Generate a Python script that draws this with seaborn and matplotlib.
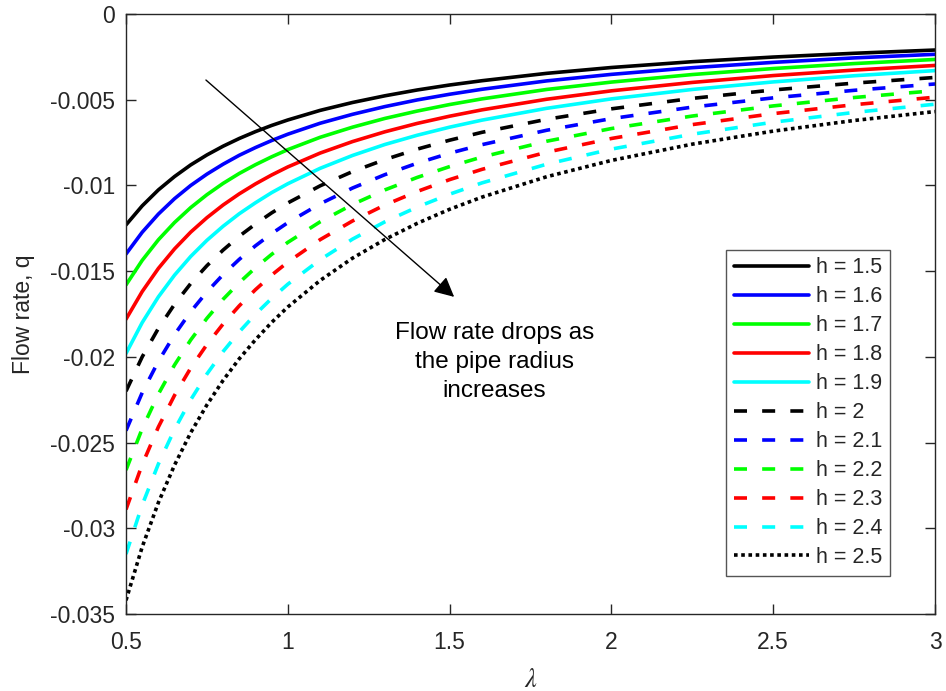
import numpy as np
import pandas as pd
import matplotlib
matplotlib.use("Agg")
import matplotlib.pyplot as plt
import seaborn as sns

lam = [0.5, 0.55, 0.6, 0.65, 0.7, 0.75, 0.8, 0.85, 0.9, 0.95, 1.0, 1.1, 1.2, 1.3,
       1.4, 1.5, 1.6, 1.8, 2.0, 2.25, 2.5, 2.75, 3.0]

# flow rate q, in units of 1e-3 for each pipe radius h
q_15 = [-12.3, -11.19, -10.26, -9.48, -8.80, -8.22, -7.71, -7.26, -6.86, -6.50, -6.18, -5.62,
        -5.16, -4.77, -4.43, -4.14, -3.89, -3.46, -3.12, -2.78, -2.51, -2.29, -2.10]
q_16 = [-14.0, -12.73, -11.67, -10.77, -10.00, -9.34, -8.76, -8.24, -7.79, -7.38, -7.01, -6.37,
        -5.85, -5.40, -5.01, -4.68, -4.39, -3.90, -3.52, -3.13, -2.82, -2.56, -2.35]
q_17 = [-15.8, -14.37, -13.17, -12.16, -11.29, -10.54, -9.88, -9.30, -8.79, -8.33, -7.91, -7.19,
        -6.60, -6.09, -5.66, -5.28, -4.95, -4.40, -3.97, -3.53, -3.18, -2.89, -2.65]
q_18 = [-17.8, -16.19, -14.84, -13.70, -12.72, -11.88, -11.14, -10.49, -9.91, -9.39, -8.92, -8.11,
        -7.44, -6.87, -6.38, -5.96, -5.59, -4.97, -4.48, -3.99, -3.59, -3.27, -3.00]
q_19 = [-19.8, -18.00, -16.50, -15.23, -14.14, -13.20, -12.38, -11.65, -11.01, -10.42, -9.90, -9.00,
        -8.25, -7.61, -7.07, -6.60, -6.19, -5.50, -4.95, -4.40, -3.96, -3.60, -3.30]
q_20 = [-22.0, -20.00, -18.34, -16.93, -15.72, -14.68, -13.77, -12.96, -12.25, -11.60, -11.02, -10.02,
        -9.19, -8.49, -7.88, -7.36, -6.90, -6.14, -5.53, -4.92, -4.43, -4.03, -3.70]
q_21 = [-24.3, -22.09, -20.26, -18.70, -17.36, -16.21, -15.20, -14.31, -13.52, -12.81, -12.17, -11.07,
        -10.15, -9.37, -8.70, -8.12, -7.62, -6.78, -6.10, -5.43, -4.89, -4.45, -4.08]
q_22 = [-26.6, -24.19, -22.17, -20.47, -19.01, -17.75, -16.64, -15.67, -14.80, -14.02, -13.32, -12.12,
        -11.11, -10.26, -9.53, -8.90, -8.34, -7.42, -6.68, -5.95, -5.36, -4.87, -4.47]
q_23 = [-28.9, -26.28, -24.09, -22.24, -20.65, -19.28, -18.08, -17.02, -16.08, -15.23, -14.47, -13.16,
        -12.07, -11.14, -10.35, -9.66, -9.06, -8.06, -7.26, -6.45, -5.81, -5.29, -4.85]
q_24 = [-31.5, -28.64, -26.25, -24.23, -22.50, -21.00, -19.69, -18.54, -17.51, -16.59, -15.76, -14.33,
        -13.13, -12.12, -11.26, -10.51, -9.85, -8.76, -7.88, -7.01, -6.31, -5.74, -5.26]
q_25 = [-34.2, -31.09, -28.50, -26.31, -24.42, -22.80, -21.37, -20.11, -19.00, -17.99, -17.09, -15.54,
        -14.24, -13.15, -12.21, -11.39, -10.68, -9.49, -8.54, -7.59, -6.83, -6.21, -5.69]

labels = ["h = 1.5", "h = 1.6", "h = 1.7", "h = 1.8", "h = 1.9", "h = 2",
          "h = 2.1", "h = 2.2", "h = 2.3", "h = 2.4", "h = 2.5"]
series = [q_15, q_16, q_17, q_18, q_19, q_20, q_21, q_22, q_23, q_24, q_25]

colors = ["#000000", "#0000FF", "#00FF00", "#FF0000", "#00FFFF",
          "#000000", "#0000FF", "#00FF00", "#FF0000", "#00FFFF", "#000000"]
dash_solid = ""
dash_long = (3.6, 4.2)
dash_dot = (1.0, 1.0)
dash_list = [dash_solid] * 5 + [dash_long] * 5 + [dash_dot]

# long-form table for seaborn
rows = []
for lab, vals in zip(labels, series):
    for x, v in zip(lam, vals):
        rows.append({"lambda": x, "q": v * 1e-3, "h": lab})
df = pd.DataFrame(rows)

sns.set_style("white")
plt.rcParams["font.family"] = ["Liberation Sans", "DejaVu Sans"]
plt.rcParams["mathtext.fontset"] = "stix"

fig = plt.figure(figsize=(9.46, 6.91), dpi=100)
ax = fig.add_axes([0.1332, 0.1114, 0.8552, 0.8683])

sns.lineplot(data=df, x="lambda", y="q", hue="h", style="h",
             hue_order=labels, style_order=labels,
             palette=dict(zip(labels, colors)),
             dashes=dict(zip(labels, dash_list)),
             linewidth=2.6, ax=ax, legend=False)

ax.set_xlim(0.5, 3)
ax.set_ylim(-0.035, 0)
ax.set_xticks([0.5, 1, 1.5, 2, 2.5, 3])
ax.set_xticklabels(["0.5", "1", "1.5", "2", "2.5", "3"])
ax.set_yticks([-0.035, -0.03, -0.025, -0.02, -0.015, -0.01, -0.005, 0])
ax.set_yticklabels(["-0.035", "-0.03", "-0.025", "-0.02", "-0.015", "-0.01", "-0.005", "0"])

axis_col = "#262626"
for s in ax.spines.values():
    s.set_color(axis_col)
    s.set_linewidth(1.0)
ax.tick_params(direction="in", length=7, width=1, color=axis_col,
               labelcolor=axis_col, labelsize=16.5, top=True, right=True,
               bottom=True, left=True)
ax.tick_params(axis="x", pad=12)
ax.tick_params(axis="y", pad=8)

ax.set_xlabel(r"$\lambda$", fontsize=19, color=axis_col)
ax.set_ylabel("Flow rate, q", fontsize=16.5, color=axis_col)
ax.xaxis.set_label_coords(0.5, -0.09)
ax.yaxis.set_label_coords(-0.113, 0.5)

# legend built from the drawn lines
handles = ax.get_lines()[:len(labels)]
leg = ax.legend(handles, labels, loc="upper left", bbox_to_anchor=(0.742, 0.607),
                fontsize=15.5, frameon=True, fancybox=False, framealpha=1,
                edgecolor="#555555", handlelength=3.5, handletextpad=0.3,
                labelspacing=0.37, borderpad=0.35, borderaxespad=0)
leg.get_frame().set_linewidth(1.0)

ax.annotate("", xy=(1.514, -0.0165), xytext=(0.747, -0.00385),
            arrowprops=dict(arrowstyle="-|>", color="k", lw=1,
                            mutation_scale=30, shrinkA=0, shrinkB=0))
ax.text(1.638, -0.0203, "Flow rate drops as\nthe pipe radius\nincreases",
        ha="center", va="center", fontsize=17.5, linespacing=1.42, color="#000000")

fig.savefig("out.png", dpi=100)
